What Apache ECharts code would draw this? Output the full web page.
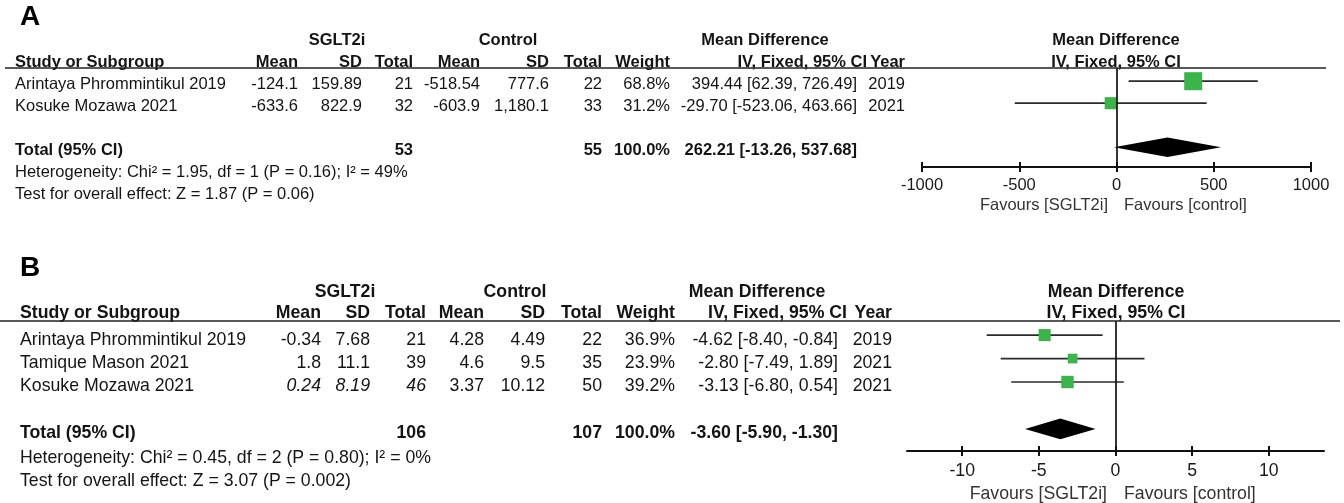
<!DOCTYPE html>
<html><head><meta charset="utf-8">
<script src="https://cdn.jsdelivr.net/npm/echarts@6/dist/echarts.min.js"></script>
<style>html,body{margin:0;padding:0;background:#fff}#c{width:1344px;height:503px}</style>
</head><body><div id="c"></div>
<script>
// ---------- Panel A data ----------
const studiesA = ['Arintaya Phrommintikul 2019', 'Kosuke Mozawa 2021'];
const sgltMeanA = ['-124.1', '-633.6'];
const sgltSdA = ['159.89', '822.9'];
const sgltNA = ['21', '32'];
const ctrlMeanA = ['-518.54', '-603.9'];
const ctrlSdA = ['777.6', '1,180.1'];
const ctrlNA = ['22', '33'];
const weightA = [68.8, 31.2];
const mdA = [394.44, -29.70];
const loA = [62.39, -523.06];
const hiA = [726.49, 463.66];
const yearA = ['2019', '2021'];
const totalNA = ['53', '55'];
const totalEffA = [262.21, -13.26, 537.68]; // md, lo, hi
const hetA = 'Heterogeneity: Chi² = 1.95, df = 1 (P = 0.16); I² = 49%';
const testA = 'Test for overall effect: Z = 1.87 (P = 0.06)';
const ticksA = [-1000, -500, 0, 500, 1000];
const italicRowsA = [];

// ---------- Panel B data ----------
const studiesB = ['Arintaya Phrommintikul 2019', 'Tamique Mason 2021', 'Kosuke Mozawa 2021'];
const sgltMeanB = ['-0.34', '1.8', '0.24'];
const sgltSdB = ['7.68', '11.1', '8.19'];
const sgltNB = ['21', '39', '46'];
const ctrlMeanB = ['4.28', '4.6', '3.37'];
const ctrlSdB = ['4.49', '9.5', '10.12'];
const ctrlNB = ['22', '35', '50'];
const weightB = [36.9, 23.9, 39.2];
const mdB = [-4.62, -2.80, -3.13];
const loB = [-8.40, -7.49, -6.80];
const hiB = [-0.84, 1.89, 0.54];
const yearB = ['2019', '2021', '2021'];
const totalNB = ['106', '107'];
const totalEffB = [-3.60, -5.90, -1.30];
const hetB = 'Heterogeneity: Chi² = 0.45, df = 2 (P = 0.80); I² = 0%';
const testB = 'Test for overall effect: Z = 3.07 (P = 0.002)';
const ticksB = [-10, -5, 0, 5, 10];
const italicRowsB = [2];

// ---------- layout (positions / styles only) ----------
const FONT = "'Liberation Sans', Arial, Helvetica, sans-serif";
const layouts = [
  { label: 'A', labelY: 17, fs: 16.5, groupY: 40, headY: 62, lineY: 68, lineX1: 5, lineX2: 1326,
    rowY: [84, 106], totalY: 150, hetY: 172, testY: 194, studyX: 15,
    grpX: [337, 508, 765], colR: [298, 362, 413, 480, 549, 602, 670, 867, 905], ciR: 857,
    plotCx: 1116,
    grid: { left: 922, top: 68, width: 389, height: 99 }, xr: [-1000, 1000], yr: [-0.6, 3.9],
    labelMargin: 10, favY: 205, favL: 1108, favR: 1124, sq: 2.17 },
  { label: 'B', labelY: 268, fs: 17.7, groupY: 292, headY: 313, lineY: 321, lineX1: 0, lineX2: 1340,
    rowY: [340, 363, 386], totalY: 433, hetY: 458, testY: 481, studyX: 20,
    grpX: [345, 515, 757], colR: [321, 370, 426, 484, 545, 602, 675, 847, 892], ciR: 838,
    plotCx: 1116,
    grid: { left: 907, top: 321, width: 417, height: 130 }, xr: [-13.6, 13.6], yr: [-0.6, 4.94],
    labelMargin: 11, favY: 494, favL: 1107, favR: 1124, sq: 1.98 }
];

const panels = [
  { studies: studiesA, sm: sgltMeanA, ssd: sgltSdA, sn: sgltNA, cm: ctrlMeanA, csd: ctrlSdA, cn: ctrlNA,
    w: weightA, md: mdA, lo: loA, hi: hiA, yr: yearA, tn: totalNA, te: totalEffA, het: hetA, test: testA,
    ticks: ticksA, ital: italicRowsA },
  { studies: studiesB, sm: sgltMeanB, ssd: sgltSdB, sn: sgltNB, cm: ctrlMeanB, csd: ctrlSdB, cn: ctrlNB,
    w: weightB, md: mdB, lo: loB, hi: hiB, yr: yearB, tn: totalNB, te: totalEffB, het: hetB, test: testB,
    ticks: ticksB, ital: italicRowsB }
];

const graphics = [];
function txt(x, y, s, o) {
  o = o || {};
  const size = o.size || 16;
  const font = (o.italic ? 'italic ' : '') + (o.bold ? 'bold ' : '') + size + 'px ' + FONT;
  graphics.push({ type: 'text', x: x, y: y, z: 10, silent: true,
    style: { text: s, font: font, fill: o.color || '#141414',
      textAlign: o.align || 'left', align: o.align || 'left',
      textVerticalAlign: 'middle', verticalAlign: 'middle' } });
}
function hline(x1, x2, y, w) {
  graphics.push({ type: 'line', z: 10, silent: true, shape: { x1: x1, y1: y, x2: x2, y2: y },
    style: { stroke: '#222', lineWidth: w || 1.6 } });
}
const fmt2 = v => v.toFixed(2);
const ciStr = (m, l, h) => fmt2(m) + ' [' + fmt2(l) + ', ' + fmt2(h) + ']';

const grids = [], xAxes = [], yAxes = [], series = [];

panels.forEach((d, pi) => {
  const L = layouts[pi];
  const fs = L.fs;
  const c = L.colR;
  txt(20, L.labelY, L.label, { bold: true, size: 28, color: '#000' });
  // group headers
  txt(L.grpX[0], L.groupY, 'SGLT2i', { bold: true, size: fs, align: 'center' });
  txt(L.grpX[1], L.groupY, 'Control', { bold: true, size: fs, align: 'center' });
  txt(L.grpX[2], L.groupY, 'Mean Difference', { bold: true, size: fs, align: 'center' });
  txt(L.plotCx, L.groupY, 'Mean Difference', { bold: true, size: fs, align: 'center' });
  // column headers
  txt(L.studyX, L.headY, 'Study or Subgroup', { bold: true, size: fs });
  const heads = ['Mean', 'SD', 'Total', 'Mean', 'SD', 'Total', 'Weight', 'IV, Fixed, 95% CI', 'Year'];
  heads.forEach((h, i) => txt(c[i], L.headY, h, { bold: true, size: fs, align: 'right' }));
  txt(L.plotCx, L.headY, 'IV, Fixed, 95% CI', { bold: true, size: fs, align: 'center' });
  hline(L.lineX1, L.lineX2, L.lineY, 1.6);
  // study rows
  d.studies.forEach((s, i) => {
    const y = L.rowY[i];
    const it = d.ital.indexOf(i) >= 0;
    txt(L.studyX, y, s, { size: fs });
    txt(c[0], y, d.sm[i], { size: fs, align: 'right', italic: it });
    txt(c[1], y, d.ssd[i], { size: fs, align: 'right', italic: it });
    txt(c[2], y, d.sn[i], { size: fs, align: 'right', italic: it });
    txt(c[3], y, d.cm[i], { size: fs, align: 'right' });
    txt(c[4], y, d.csd[i], { size: fs, align: 'right' });
    txt(c[5], y, d.cn[i], { size: fs, align: 'right' });
    txt(c[6], y, d.w[i].toFixed(1) + '%', { size: fs, align: 'right' });
    txt(L.ciR, y, ciStr(d.md[i], d.lo[i], d.hi[i]), { size: fs, align: 'right' });
    txt(c[8], y, d.yr[i], { size: fs, align: 'right' });
  });
  // total row
  txt(L.studyX, L.totalY, 'Total (95% CI)', { bold: true, size: fs });
  txt(c[2], L.totalY, d.tn[0], { bold: true, size: fs, align: 'right' });
  txt(c[5], L.totalY, d.tn[1], { bold: true, size: fs, align: 'right' });
  txt(c[6], L.totalY, '100.0%', { bold: true, size: fs, align: 'right' });
  txt(L.ciR, L.totalY, ciStr(d.te[0], d.te[1], d.te[2]), { bold: true, size: fs, align: 'right' });
  txt(L.studyX, L.hetY, d.het, { size: fs });
  txt(L.studyX, L.testY, d.test, { size: fs });
  // favours
  txt(L.favL, L.favY, 'Favours [SGLT2i]', { size: fs, align: 'right', color: '#333' });
  txt(L.favR, L.favY, 'Favours [control]', { size: fs, color: '#333' });

  // ---- forest plot ----
  grids.push(Object.assign({ containLabel: false }, L.grid));
  const axBase = { type: 'value', gridIndex: pi, min: L.xr[0], max: L.xr[1], position: 'bottom',
    splitLine: { show: false } };
  xAxes.push(Object.assign({}, axBase, {
    axisLine: { show: true, onZero: false, lineStyle: { color: '#111', width: 2 } },
    axisTick: { show: true, length: 5, lineStyle: { color: '#111', width: 2 }, customValues: d.ticks },
    axisLabel: { show: true, customValues: d.ticks, formatter: v => String(v),
      fontSize: fs, fontFamily: FONT, color: '#1a1a1a', margin: L.labelMargin }
  }));
  xAxes.push(Object.assign({}, axBase, {
    axisLine: { show: false, onZero: false },
    axisTick: { show: true, inside: true, length: 5, lineStyle: { color: '#111', width: 2 }, customValues: d.ticks },
    axisLabel: { show: false }
  }));
  yAxes.push({ type: 'value', gridIndex: pi, min: L.yr[0], max: L.yr[1], inverse: true, show: false });
  const xi = pi * 2;
  // CI whiskers
  series.push({
    type: 'custom', xAxisIndex: xi, yAxisIndex: pi, z: 2, silent: true,
    data: d.studies.map((s, i) => [d.lo[i], d.hi[i], i]),
    encode: { x: [0, 1], y: 2 },
    renderItem: (params, api) => {
      const p1 = api.coord([api.value(0), api.value(2)]);
      const p2 = api.coord([api.value(1), api.value(2)]);
      return { type: 'line', shape: { x1: p1[0], y1: p1[1], x2: p2[0], y2: p2[1] },
        style: { stroke: '#2a2a2a', lineWidth: 1.7 } };
    }
  });
  // squares
  const k = L.sq;
  series.push({
    type: 'scatter', xAxisIndex: xi, yAxisIndex: pi, z: 3, silent: true,
    symbol: 'rect',
    symbolSize: v => k * Math.sqrt(v[2]),
    itemStyle: { color: '#3bb54a', opacity: 1 },
    data: d.studies.map((s, i) => [d.md[i], i, d.w[i]]),
    markLine: { silent: true, symbol: 'none', label: { show: false },
      lineStyle: { color: '#111', width: 1.7, type: 'solid' }, data: [{ xAxis: 0 }], animation: false }
  });
  // diamond
  const totRow = d.studies.length + 1;
  series.push({
    type: 'custom', xAxisIndex: xi, yAxisIndex: pi, z: 4, silent: true,
    data: [[d.te[1], d.te[0], d.te[2], totRow]],
    encode: { x: [0, 1, 2], y: 3 },
    renderItem: (params, api) => {
      const r = api.value(3), h = 0.44;
      const pts = [api.coord([api.value(0), r]), api.coord([api.value(1), r - h]),
        api.coord([api.value(2), r]), api.coord([api.value(1), r + h])];
      return { type: 'polygon', shape: { points: pts }, style: { fill: '#000' } };
    }
  });
});

const chart = echarts.init(document.getElementById('c'), null, { renderer: 'canvas' });
chart.setOption({
  animation: false,
  backgroundColor: '#fff',
  grid: grids, xAxis: xAxes, yAxis: yAxes, series: series,
  graphic: { elements: graphics }
});
</script></body></html>
